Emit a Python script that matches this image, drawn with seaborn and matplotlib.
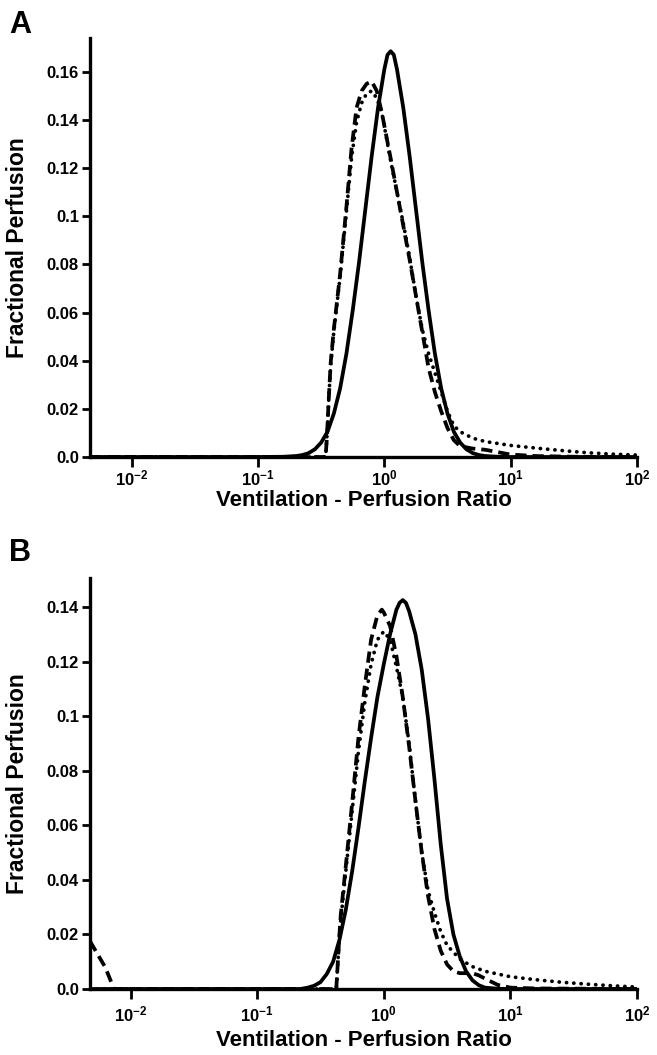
import numpy as np
import pandas as pd
import matplotlib
matplotlib.use("Agg")
import matplotlib.pyplot as plt
import seaborn as sns

# ---------------- data (log10 of V/Q ratio, fractional perfusion) ----------------
a_solid_logx = [-2.33, -1.0, -0.8, -0.7, -0.65, -0.6, -0.55, -0.5, -0.45, -0.4, -0.35, -0.3, -0.25, -0.2,
                -0.15, -0.1, -0.05, 0.0, 0.025, 0.05, 0.075, 0.1, 0.15, 0.2, 0.25, 0.3, 0.35, 0.4, 0.45,
                0.5, 0.55, 0.6, 0.65, 0.7, 0.75, 0.8, 0.9, 1.0, 2.0]
a_solid_y = [0.0, 0.0, 0.0001, 0.0004, 0.0008, 0.0016, 0.0032, 0.0060, 0.0105, 0.0180, 0.0285, 0.0430,
             0.0610, 0.0810, 0.1030, 0.1250, 0.1450, 0.1610, 0.1670, 0.1685, 0.1670, 0.1610, 0.1450,
             0.1250, 0.1030, 0.0810, 0.0610, 0.0430, 0.0285, 0.0180, 0.0105, 0.0060, 0.0032, 0.0016,
             0.0008, 0.0004, 0.0001, 0.0, 0.0]

a_dash_logx = [-2.33, -0.47, -0.465, -0.455, -0.44, -0.425, -0.40, -0.35, -0.30, -0.26, -0.22, -0.18,
               -0.14, -0.10, -0.06, -0.02, 0.05, 0.1, 0.15, 0.2, 0.25, 0.3, 0.35, 0.4, 0.45, 0.5, 0.55,
               0.6, 0.7, 0.8, 0.9, 1.0, 1.2, 1.5, 2.0]
a_dash_y = [0.0, 0.0, 0.0, 0.008, 0.024, 0.039, 0.053, 0.076, 0.104, 0.128, 0.145, 0.152, 0.155, 0.156,
            0.152, 0.143, 0.124, 0.110, 0.096, 0.082, 0.067, 0.052, 0.037, 0.027, 0.019, 0.012, 0.0070,
            0.0045, 0.0035, 0.0030, 0.0020, 0.0010, 0.0004, 0.0001, 0.0]

a_dot_logx = [-2.33, -0.47, -0.465, -0.455, -0.44, -0.425, -0.40, -0.35, -0.30, -0.26, -0.22, -0.18,
              -0.14, -0.10, -0.06, -0.02, 0.05, 0.1, 0.15, 0.2, 0.25, 0.3, 0.35, 0.4, 0.45, 0.5, 0.55,
              0.6, 0.7, 0.8, 1.0, 1.2, 1.4, 1.6, 1.8, 2.0]
a_dot_y = [0.0, 0.0, 0.0, 0.008, 0.024, 0.038, 0.052, 0.075, 0.102, 0.124, 0.139, 0.147, 0.151, 0.152,
           0.149, 0.143, 0.123, 0.110, 0.097, 0.083, 0.067, 0.053, 0.043, 0.035, 0.027, 0.019, 0.013,
           0.0105, 0.0078, 0.0064, 0.0048, 0.0037, 0.0027, 0.0018, 0.0012, 0.0008]

b_solid_logx = [-2.32, -1.0, -0.66, -0.6, -0.55, -0.5, -0.45, -0.4, -0.35, -0.3, -0.25, -0.2, -0.15,
                -0.1, -0.05, 0.0, 0.05, 0.1, 0.125, 0.15, 0.175, 0.2, 0.25, 0.3, 0.35, 0.4, 0.45, 0.5,
                0.55, 0.6, 0.65, 0.7, 0.75, 0.8, 0.9, 1.0, 2.0]
b_solid_y = [0.0, 0.0, 0.0, 0.0005, 0.0012, 0.0025, 0.0055, 0.0100, 0.0180, 0.0290, 0.0430, 0.0590,
             0.0760, 0.0920, 0.1070, 0.1190, 0.1300, 0.1390, 0.1415, 0.1425, 0.1415, 0.1385, 0.1300,
             0.1170, 0.0990, 0.0770, 0.0530, 0.0330, 0.0200, 0.0120, 0.0065, 0.0032, 0.0014, 0.0005,
             0.0001, 0.0, 0.0]

b_dash_logx = [-2.32, -2.2, -2.13, -1.0, -0.375, -0.365, -0.35, -0.34, -0.3, -0.25, -0.2, -0.15, -0.1,
               -0.05, -0.015, 0.0, 0.05, 0.1, 0.15, 0.2, 0.25, 0.3, 0.35, 0.4, 0.45, 0.5, 0.55, 0.6,
               0.7, 0.75, 0.8, 0.9, 1.0, 1.2, 2.0]
b_dash_y = [0.0175, 0.008, 0.0, 0.0, 0.0, 0.008, 0.020, 0.027, 0.045, 0.068, 0.092, 0.111, 0.128,
            0.137, 0.139, 0.138, 0.133, 0.122, 0.107, 0.089, 0.069, 0.050, 0.034, 0.022, 0.014, 0.009,
            0.0065, 0.0058, 0.0058, 0.0050, 0.0038, 0.0015, 0.0005, 0.0002, 0.0]

b_dot_logx = [-2.32, -1.0, -0.375, -0.365, -0.35, -0.34, -0.3, -0.25, -0.2, -0.15, -0.1, -0.05, 0.0,
              0.05, 0.1, 0.15, 0.2, 0.25, 0.3, 0.35, 0.4, 0.45, 0.5, 0.6, 0.7, 0.8, 1.0, 1.2, 1.4,
              1.6, 1.8, 2.0]
b_dot_y = [0.0, 0.0, 0.0, 0.008, 0.019, 0.025, 0.043, 0.065, 0.087, 0.105, 0.119, 0.128, 0.131, 0.128,
           0.118, 0.107, 0.090, 0.069, 0.050, 0.036, 0.028, 0.021, 0.0160, 0.0110, 0.0082, 0.0065,
           0.0045, 0.0034, 0.0025, 0.0018, 0.0012, 0.0007]

xtick_exps = [-2, -1, 0, 1, 2]
a_yticks = [0.0, 0.02, 0.04, 0.06, 0.08, 0.1, 0.12, 0.14, 0.16]
a_yticklabels = ["0.0", "0.02", "0.04", "0.06", "0.08", "0.1", "0.12", "0.14", "0.16"]
b_yticks = [0.0, 0.02, 0.04, 0.06, 0.08, 0.1, 0.12, 0.14]
b_yticklabels = ["0.0", "0.02", "0.04", "0.06", "0.08", "0.1", "0.12", "0.14"]

# ---------------- style ----------------
sns.set_style("ticks")
plt.rcParams["font.family"] = ["Liberation Sans", "DejaVu Sans"]
plt.rcParams["font.weight"] = "bold"
plt.rcParams["mathtext.fontset"] = "custom"
plt.rcParams["mathtext.rm"] = "Liberation Sans:bold"
plt.rcParams["mathtext.bf"] = "Liberation Sans:bold"
plt.rcParams["mathtext.it"] = "Liberation Sans:bold"
for key in ["text.color", "axes.edgecolor", "axes.labelcolor", "xtick.color", "ytick.color"]:
    plt.rcParams[key] = "black"

W, H = 657, 1055
fig = plt.figure(figsize=(W / 100, H / 100), dpi=100)

def fx(px):
    return px / W

def fy(py):
    return 1 - py / H

left_px, right_px = 90, 637
A_top, A_zero = 38, 457
B_top, B_zero = 578, 989
axA = fig.add_axes([fx(left_px), fy(A_zero), fx(right_px - left_px), (A_zero - A_top) / H])
axB = fig.add_axes([fx(left_px), fy(B_zero), fx(right_px - left_px), (B_zero - B_top) / H])

panels = [
    (axA, [(a_solid_logx, a_solid_y, "solid"), (a_dash_logx, a_dash_y, "dash"), (a_dot_logx, a_dot_y, "dot")],
     0.174, a_yticks, a_yticklabels, -2.33, A_zero - A_top, 1, 33),
    (axB, [(b_solid_logx, b_solid_y, "solid"), (b_dash_logx, b_dash_y, "dash"), (b_dot_logx, b_dot_y, "dot")],
     0.1506, b_yticks, b_yticklabels, -2.32, B_zero - B_top, 4, 41),
]

lw = 2.7
for ax, curves, ytop, yt, ytl, xlo, hpx, xpad, xlab_off in panels:
    for lx, y, kind in curves:
        df = pd.DataFrame({"vq": 10 ** np.array(lx), "q": y})
        if kind == "solid":
            sns.lineplot(data=df, x="vq", y="q", ax=ax, color="black", lw=lw, sort=False,
                         solid_capstyle="round")
        elif kind == "dash":
            sns.lineplot(data=df, x="vq", y="q", ax=ax, color="black", lw=lw, sort=False,
                         linestyle=(0, (3.0, 1.6)), dash_capstyle="butt")
        else:
            sns.lineplot(data=df, x="vq", y="q", ax=ax, color="black", lw=lw, sort=False,
                         linestyle=(0, (0.05, 1.9)), dash_capstyle="round")
    ax.set_xscale("log")
    ax.set_xlim(10 ** xlo, 100)
    ax.set_ylim(0, ytop)
    ax.set_xticks([10.0 ** e for e in xtick_exps])
    ax.set_xticklabels([r"$\mathregular{10^{%d}}$" % e for e in xtick_exps])
    ax.xaxis.set_minor_locator(matplotlib.ticker.NullLocator())
    ax.set_yticks(yt)
    ax.set_yticklabels(ytl)
    ax.tick_params(axis="y", direction="out", length=6, width=2, labelsize=12, pad=2)
    ax.tick_params(axis="x", direction="out", length=7, width=2, labelsize=12, pad=xpad)
    for lab in ax.get_xticklabels() + ax.get_yticklabels():
        lab.set_fontweight("bold")
    sns.despine(ax=ax)
    ax.spines["left"].set_linewidth(2.4)
    ax.spines["bottom"].set_linewidth(2.4)
    ax.set_xlabel("Ventilation - Perfusion Ratio", fontsize=16, fontweight="bold")
    ax.set_ylabel("Fractional Perfusion", fontsize=16.5, fontweight="bold")
    aw = right_px - left_px
    ax.xaxis.set_label_coords(0.5, -xlab_off / hpx)
    ax.yaxis.set_label_coords(-(left_px - 29) / aw, 0.5)
    ax.patch.set_alpha(0)

fig.text(fx(9), fy(25), "A", fontsize=22, fontweight="bold", va="center", ha="left")
fig.text(fx(9), fy(553), "B", fontsize=22, fontweight="bold", va="center", ha="left")

fig.savefig("out.png", dpi=100, facecolor="white")
